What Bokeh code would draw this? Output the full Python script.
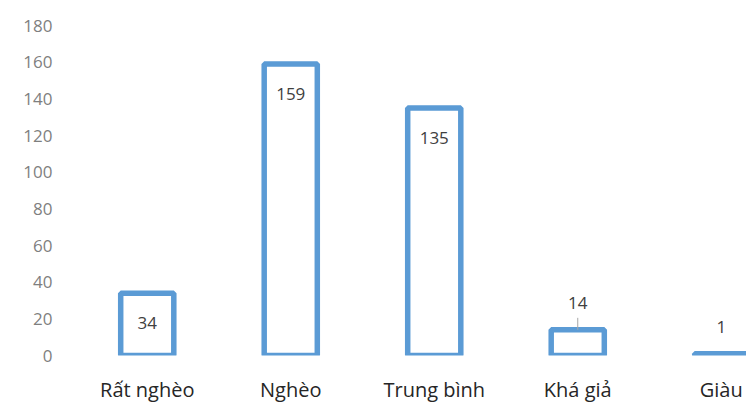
from bokeh.plotting import figure
from bokeh.models import Range1d, FixedTicker, ColumnDataSource
from bokeh.core.properties import value
from bokeh.embed import file_html
from bokeh.resources import INLINE

categories = ["Rất nghèo", "Nghèo", "Trung bình", "Khá giả", "Giàu"]
counts = [34, 159, 135, 14, 1]
y_ticks = [0, 20, 40, 60, 80, 100, 120, 140, 160, 180]

idx = list(range(len(categories)))
FONT = "Open Sans"
BLUE = "#5B9BD5"

p = figure(width=746, height=405, output_backend="svg", toolbar_location=None,
           x_range=Range1d(-0.5, -0.5 + (746 - 75) / 143.5), y_range=Range1d(0, 180),
           min_border_left=75, min_border_right=0, min_border_top=25, min_border_bottom=50)
p.outline_line_color = None
p.xgrid.grid_line_color = None
p.ygrid.grid_line_color = None

src = ColumnDataSource(dict(x=idx, top=counts))
p.vbar(x="x", top="top", bottom=0, width=0.37, source=src,
       fill_color="white", line_color=BLUE, line_width=5.5)

# data labels: inside-end for tall bars, outside-end for short ones
px_per_unit = 330 / 180
inside = [i for i, c in enumerate(counts) if c >= 30]
outside = [i for i, c in enumerate(counts) if c < 30]
src_in = ColumnDataSource(dict(x=[idx[i] for i in inside], y=[counts[i] for i in inside],
                               t=[str(counts[i]) for i in inside]))
src_out = ColumnDataSource(dict(x=[idx[i] for i in outside], y=[counts[i] for i in outside],
                                t=[str(counts[i]) for i in outside]))
p.text(x="x", y="y", text="t", source=src_in, y_offset=30, text_align="center",
       text_baseline="middle", text_font=value(FONT), text_font_size="17px", text_color="#404040")
p.text(x="x", y="y", text="t", source=src_out, y_offset=-27, text_align="center",
       text_baseline="middle", text_font=value(FONT), text_font_size="17px", text_color="#404040")
# leader line for the 14 label
lead = [i for i in outside if counts[i] > 5]
p.segment(x0=[idx[i] for i in lead], y0=[counts[i] for i in lead],
          x1=[idx[i] for i in lead], y1=[counts[i] + 12 / px_per_unit for i in lead],
          line_color="#a6a6a6", line_width=1)

p.xaxis.ticker = FixedTicker(ticks=idx)
p.xaxis.major_label_overrides = {i: c for i, c in zip(idx, categories)}
p.xaxis.axis_line_color = None
p.xaxis.major_tick_line_color = None
p.xaxis.minor_tick_line_color = None
p.xaxis.major_label_text_font = FONT
p.xaxis.major_label_text_font_size = "20px"
p.xaxis.major_label_text_color = "#262626"
p.xaxis.major_label_standoff = 14

p.yaxis.ticker = FixedTicker(ticks=y_ticks)
p.yaxis.axis_line_color = None
p.yaxis.major_tick_line_color = None
p.yaxis.minor_tick_line_color = None
p.yaxis.major_label_text_font = FONT
p.yaxis.major_label_text_font_size = "17px"
p.yaxis.major_label_text_color = "#7f7f7f"
p.yaxis.major_label_standoff = 17

open("out.html", "w").write(file_html(p, INLINE))
